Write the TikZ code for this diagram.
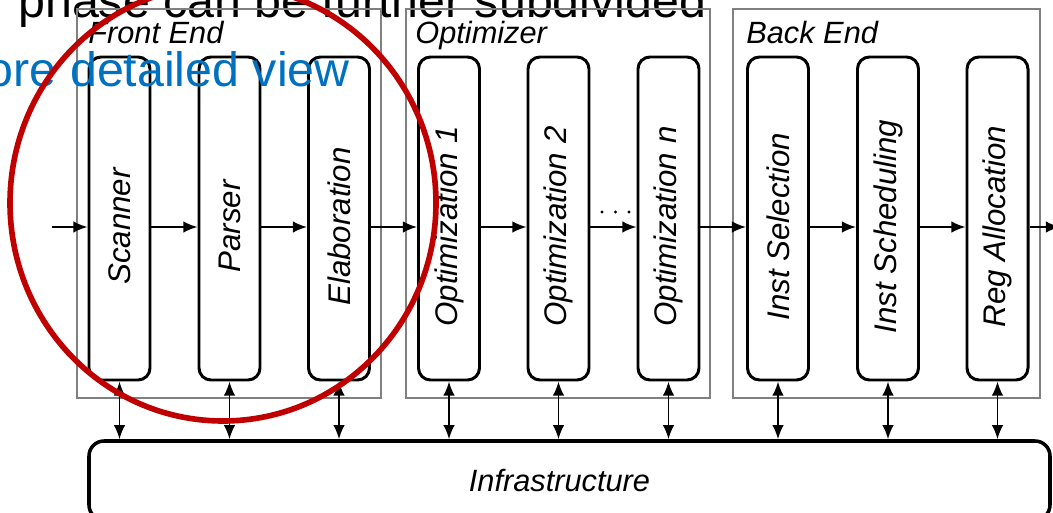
\documentclass[tikz,border=0pt]{standalone}
\usepackage{fontspec}
\setmainfont{Liberation Sans}
\usepackage{graphicx}
\usetikzlibrary{arrows.meta}

\definecolor{slideblue}{RGB}{0,112,192}
\definecolor{slidered}{RGB}{192,0,0}
\definecolor{boxgray}{RGB}{128,128,128}

\newcommand{\modtext}[1]{\rotatebox{90}{#1\hspace*{0.32cm}}}

\tikzset{
  module/.style={draw, line width=1.7pt, rounded corners=0.24cm, minimum width=1.22cm,
    minimum height=6.46cm, inner sep=0pt, font=\fontsize{17.8}{20}\selectfont\itshape},
  group/.style={draw=boxgray, line width=1pt},
  grouplabel/.style={anchor=base west, inner sep=0pt, font=\fontsize{17.5}{20}\selectfont\itshape},
  flow/.style={line width=1pt, -{Latex[length=8pt,width=6.5pt]}},
  service/.style={line width=1pt, {Latex[length=8pt,width=6.5pt]}-{Latex[length=8pt,width=6.5pt]}},
  infra/.style={draw, line width=2pt, rounded corners=0.3cm, minimum width=19.22cm,
    minimum height=1.58cm, inner sep=0pt, font=\fontsize{17.5}{20}\selectfont\itshape},
  slidetext/.style={inner sep=0pt, font=\fontsize{27.5}{32}\selectfont}
}

\begin{document}
\begin{tikzpicture}
\useasboundingbox (0,0) rectangle (21.06,10.24);
\clip (0,0) rectangle (21.06,10.24);
\node[slidetext, anchor=base west] (heading) at (0.36,9.88) {phase can be further subdivided}; % slide text
\draw[group] (1.54,2.28) rectangle (7.62,10.06); % front end
\draw[group] (8.12,2.28) rectangle (14.2,10.06); % optimizer
\draw[group] (14.66,2.28) rectangle (20.8,10.06); % back end
\node[grouplabel] (felabel) at (1.76,9.36) {Front End};
\node[grouplabel] (optlabel) at (8.3,9.36) {Optimizer};
\node[grouplabel] (belabel) at (14.92,9.36) {Back End};
\node[module] (scan) at (2.39,5.87) {\modtext{Scanner}};
\node[module] (pars) at (4.59,5.87) {\modtext{Parser}};
\node[module] (elab) at (6.78,5.87) {\modtext{Elaboration}};
\node[module] (opta) at (8.98,5.87) {\modtext{Optimization 1}};
\node[module] (optb) at (11.17,5.87) {\modtext{Optimization 2}};
\node[module] (optn) at (13.37,5.87) {\modtext{Optimization n}};
\node[module] (isel) at (15.56,5.87) {\modtext{Inst Selection}};
\node[module] (isch) at (17.76,5.87) {\modtext{Inst Scheduling}};
\node[module] (ralloc) at (19.95,5.87) {\modtext{Reg Allocation}};
\node[infra] (infra) at (11.39,0.63) {\hspace*{-0.4cm}Infrastructure};
\coordinate (row) at (0,5.7);
\coordinate (src) at (1.04,5.7);
\coordinate (sink) at (21.2,5.7);
\draw[flow] (src) -- (scan.west |- row);
\draw[flow] (scan.east |- row) -- (pars.west |- row);
\draw[flow] (pars.east |- row) -- (elab.west |- row);
\draw[flow] (elab.east |- row) -- (opta.west |- row);
\draw[flow] (opta.east |- row) -- (optb.west |- row);
\draw[flow] (optb.east |- row) -- (optn.west |- row);
\draw[flow] (optn.east |- row) -- (isel.west |- row);
\draw[flow] (isel.east |- row) -- (isch.west |- row);
\draw[flow] (isch.east |- row) -- (ralloc.west |- row);
\draw[flow] (ralloc.east |- row) -- (sink);
\fill (12.04,6.0) circle (0.034); % dots
\fill (12.31,6.0) circle (0.034);
\fill (12.58,6.0) circle (0.034);
\draw[service] (scan.south) -- (scan.south |- infra.north);
\draw[service] (pars.south) -- (pars.south |- infra.north);
\draw[service] (elab.south) -- (elab.south |- infra.north);
\draw[service] (opta.south) -- (opta.south |- infra.north);
\draw[service] (optb.south) -- (optb.south |- infra.north);
\draw[service] (optn.south) -- (optn.south |- infra.north);
\draw[service] (isel.south) -- (isel.south |- infra.north);
\draw[service] (isch.south) -- (isch.south |- infra.north);
\draw[service] (ralloc.south) -- (ralloc.south |- infra.north);
\node[slidetext, anchor=base east, text=slideblue] (subhead) at (7.0,8.5) {ore detailed view}; % slide text
\draw[slidered, line width=3.2pt] (4.46,6.18) ellipse (4.26 and 4.36); % highlight
\end{tikzpicture}
\end{document}
